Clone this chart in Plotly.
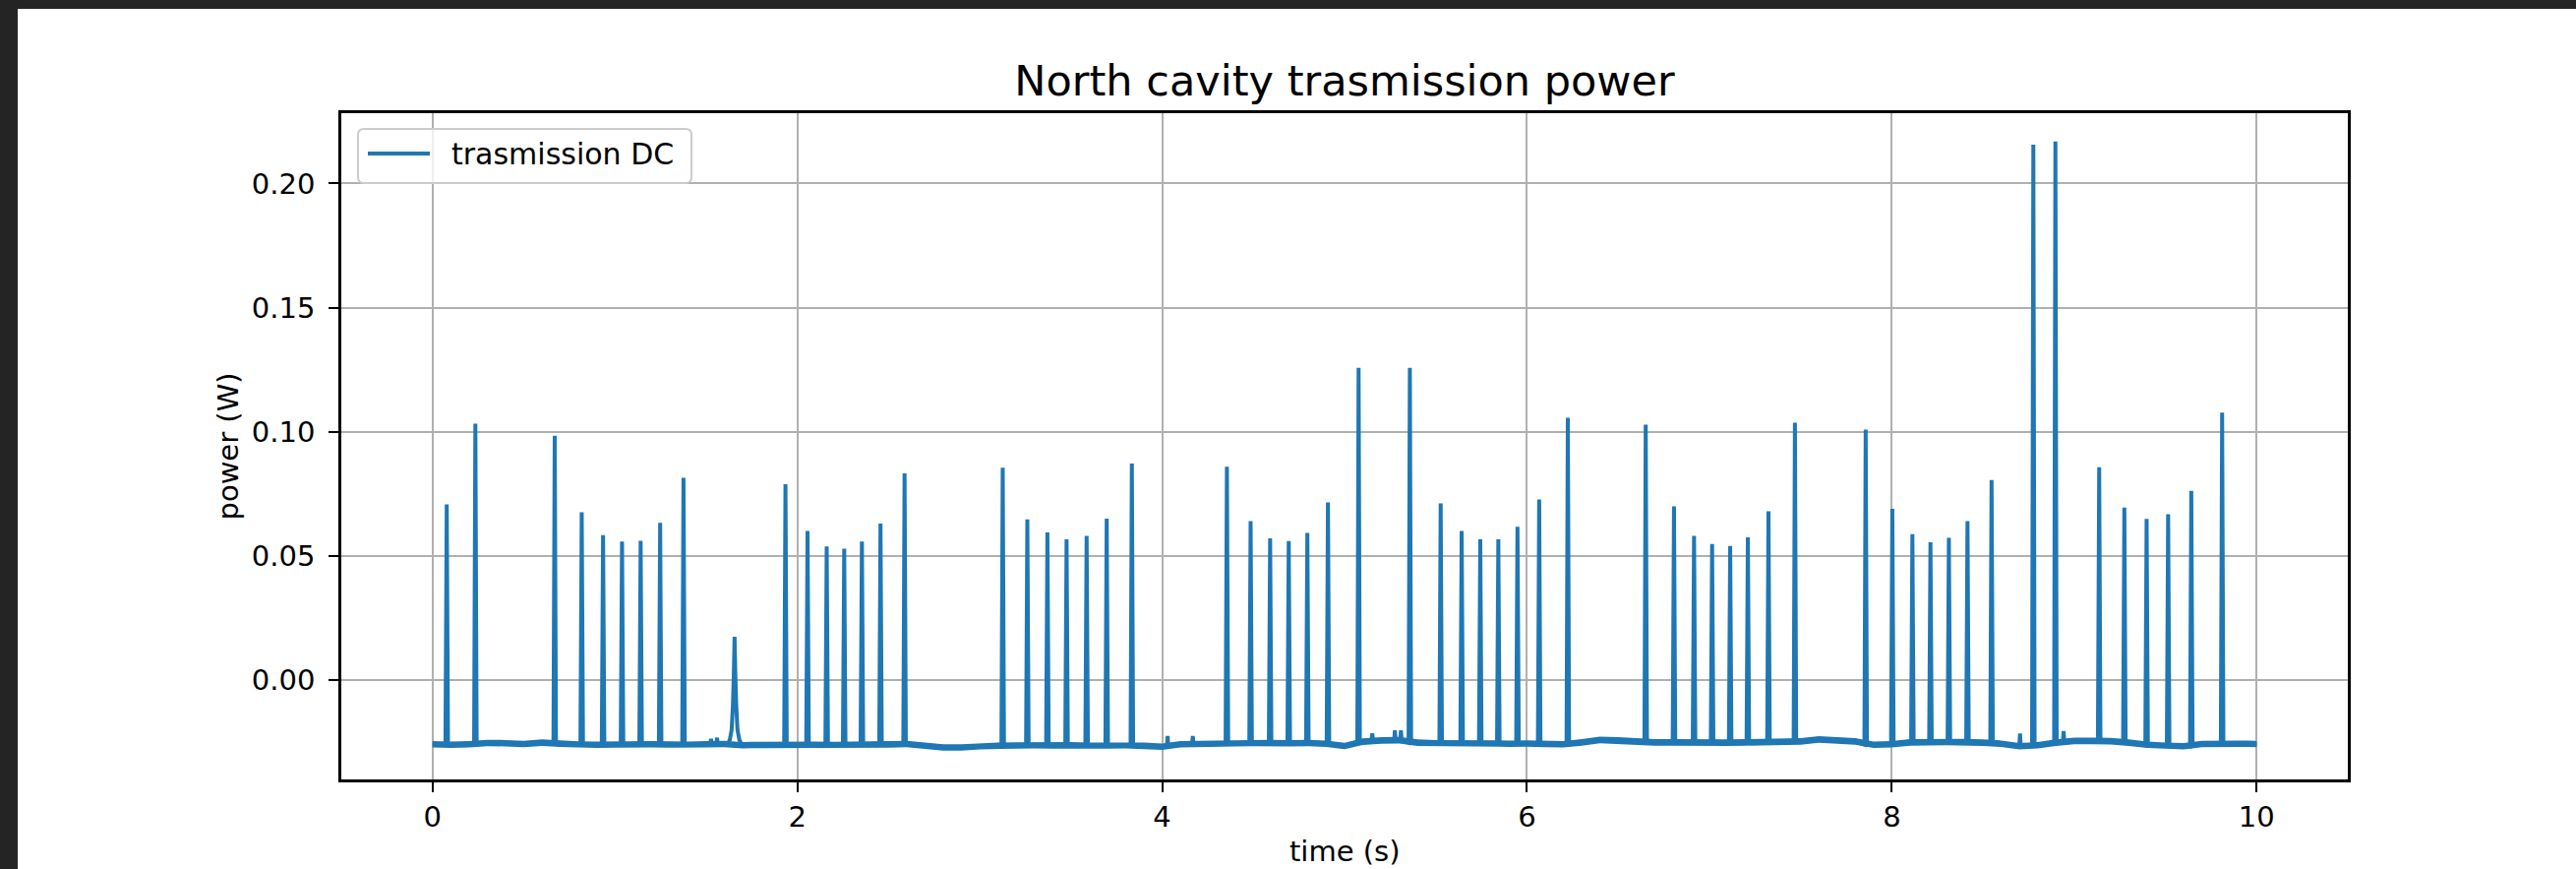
import plotly.graph_objects as go

# ---------------- data ----------------
# resonance peaks (time in s, peak power in W)
peak_times = [0.078, 0.235, 0.670, 0.818, 0.935, 1.039, 1.141, 1.248, 1.376,
              1.935, 2.056, 2.161, 2.257, 2.354, 2.456, 2.588,
              3.126, 3.261, 3.371, 3.476, 3.586, 3.696, 3.834,
              4.355, 4.485, 4.592, 4.694, 4.796, 4.909,
              5.077, 5.358,
              5.527, 5.642, 5.744, 5.843, 5.948, 6.067, 6.224,
              6.651, 6.806, 6.916, 7.015, 7.114, 7.211, 7.324, 7.469,
              7.857, 8.003, 8.113, 8.212, 8.313, 8.415, 8.547,
              8.776, 8.897,
              9.137, 9.275, 9.397, 9.515, 9.642, 9.811]
peak_heights = [0.0708, 0.1033, 0.0984, 0.0676, 0.0584, 0.0558, 0.0561, 0.0633, 0.0815,
                0.0789, 0.0601, 0.0538, 0.0529, 0.0558, 0.0630, 0.0832,
                0.0855, 0.0647, 0.0595, 0.0567, 0.0581, 0.0650, 0.0872,
                0.0859, 0.0640, 0.0571, 0.0560, 0.0593, 0.0716,
                0.1258, 0.1258,
                0.0712, 0.0601, 0.0567, 0.0567, 0.0617, 0.0727, 0.1056,
                0.1029, 0.0700, 0.0581, 0.0548, 0.0540, 0.0575, 0.0680, 0.1037,
                0.1009, 0.0690, 0.0588, 0.0555, 0.0573, 0.0640, 0.0806,
                0.2156, 0.2169,
                0.0857, 0.0695, 0.0649, 0.0668, 0.0762, 0.1077]

# broad, low resonance near 1.65 s
broad_times = [1.618, 1.630, 1.640, 1.647, 1.652, 1.656, 1.660, 1.665, 1.672, 1.682, 1.694]
broad_values = [-0.0258, -0.0240, -0.0200, -0.0100, 0.0030, 0.0174, 0.0030, -0.0100, -0.0200, -0.0240, -0.0258]

# small glitches on the baseline
glitch_times = [1.527, 1.560, 4.030, 4.168, 5.152, 5.276, 5.309, 8.703, 8.942]
glitch_values = [-0.0237, -0.0232, -0.0225, -0.0225, -0.0215, -0.0202, -0.0202, -0.0215, -0.0205]

# baseline level sampled every 0.1 s from 0 to 10 s
baseline_times = [round(0.1 * i, 1) for i in range(101)]
baseline_level = [
    -0.0258, -0.0260, -0.0258, -0.0253, -0.0254, -0.0257, -0.0252, -0.0256, -0.0259, -0.0260,
    -0.0259, -0.0260, -0.0258, -0.0259, -0.0260, -0.0258, -0.0257, -0.0262, -0.0261, -0.0260,
    -0.0261, -0.0260, -0.0261, -0.0260, -0.0259, -0.0259, -0.0257, -0.0264, -0.0271, -0.0271,
    -0.0266, -0.0264, -0.0263, -0.0262, -0.0263, -0.0262, -0.0264, -0.0263, -0.0262, -0.0264,
    -0.0268, -0.0258, -0.0257, -0.0256, -0.0254, -0.0253, -0.0253, -0.0254, -0.0253, -0.0256,
    -0.0265, -0.0248, -0.0243, -0.0242, -0.0252, -0.0254, -0.0255, -0.0256, -0.0255, -0.0256,
    -0.0255, -0.0257, -0.0258, -0.0251, -0.0241, -0.0243, -0.0247, -0.0251, -0.0251, -0.0252,
    -0.0251, -0.0252, -0.0251, -0.0250, -0.0249, -0.0247, -0.0239, -0.0243, -0.0247, -0.0260,
    -0.0258, -0.0251, -0.0250, -0.0249, -0.0250, -0.0252, -0.0256, -0.0266, -0.0262, -0.0252,
    -0.0245, -0.0245, -0.0246, -0.0252, -0.0260, -0.0264, -0.0266, -0.0257, -0.0256, -0.0256,
    -0.0257]

legend_label = "trasmission DC"
title_text = "North cavity trasmission power"
x_label = "time (s)"
y_label = "power (W)"
y_ticks = [0, 0.05, 0.10, 0.15, 0.20]

# ---------------- styles ----------------
LINE_COLOR = "#1f77b4"
NOISE_HALF = 0.0013      # half thickness of the noisy baseline band
PEAK_HALF = 0.007        # half base width of a narrow resonance
GLITCH_HALF = 0.004
FONT = "DejaVu Sans"

# ---------------- build the trace ----------------
def nearest_level(t):
    i = min(range(len(baseline_times)), key=lambda k: abs(baseline_times[k] - t))
    return baseline_level[i]

windows = [(t - PEAK_HALF, t + PEAK_HALF) for t in peak_times]
windows += [(t - GLITCH_HALF, t + GLITCH_HALF) for t in glitch_times]
windows.append((broad_times[0], broad_times[-1]))

pts = [(t, v) for t, v in zip(baseline_times, baseline_level)
       if not any(a <= t <= b for a, b in windows)]
for t, h in zip(peak_times, peak_heights):
    b = nearest_level(t)
    pts += [(t - PEAK_HALF, b), (t, h), (t + PEAK_HALF, b)]
for t, h in zip(glitch_times, glitch_values):
    b = nearest_level(t)
    pts += [(t - GLITCH_HALF, b), (t, h), (t + GLITCH_HALF, b)]
pts += list(zip(broad_times, broad_values))
pts.sort(key=lambda p: p[0])
xs = [p[0] for p in pts]
ys = [p[1] for p in pts]

fig = go.Figure()
# noise band of the baseline
fig.add_trace(go.Scatter(
    x=baseline_times + baseline_times[::-1],
    y=[v + NOISE_HALF for v in baseline_level] + [v - NOISE_HALF for v in baseline_level[::-1]],
    fill="toself", fillcolor=LINE_COLOR, line=dict(width=0),
    mode="lines", showlegend=False, hoverinfo="skip"))
fig.add_trace(go.Scatter(
    x=xs, y=ys, mode="lines", name=legend_label, showlegend=False,
    line=dict(color=LINE_COLOR, width=4, simplify=False)))

W, H = 2619, 883
ML, MR, MT, MB = 347, 232, 115, 91
pw, ph = W - ML - MR, H - MT - MB

def px(x):  # pixel -> paper x
    return (x - ML) / pw

def py(y):  # pixel -> paper y
    return (H - MB - y) / ph

axis_common = dict(
    showgrid=True, gridcolor="#b0b0b0", gridwidth=2,
    showline=True, linecolor="black", linewidth=2.5, mirror=True,
    ticks="outside", ticklen=10, tickwidth=2.3, tickcolor="black",
    tickfont=dict(family=FONT, size=29, color="black"),
    zeroline=False, automargin=False,
)

# legend box (matplotlib style, rounded corners)
lx0, lx1, ly0, ly1, r = 364, 703, 131, 186, 6
box_path = (
    f"M {px(lx0 + r)},{py(ly0)} L {px(lx1 - r)},{py(ly0)} "
    f"Q {px(lx1)},{py(ly0)} {px(lx1)},{py(ly0 + r)} "
    f"L {px(lx1)},{py(ly1 - r)} Q {px(lx1)},{py(ly1)} {px(lx1 - r)},{py(ly1)} "
    f"L {px(lx0 + r)},{py(ly1)} Q {px(lx0)},{py(ly1)} {px(lx0)},{py(ly1 - r)} "
    f"L {px(lx0)},{py(ly0 + r)} Q {px(lx0)},{py(ly0)} {px(lx0 + r)},{py(ly0)} Z"
)

label_font = dict(family=FONT, size=29, color="black")

fig.update_layout(
    width=W, height=H,
    margin=dict(l=ML, r=MR, t=MT, b=MB, autoexpand=False),
    paper_bgcolor="#242424", plot_bgcolor="white",
    font=dict(family=FONT, color="black"),
    title=dict(text=title_text,
               font=dict(family=FONT, size=43, color="black"),
               x=0.5, xref="paper", xanchor="center",
               y=1 - 82 / H, yref="container", yanchor="middle"),
    xaxis=dict(range=[-0.5, 10.5], tick0=0, dtick=2, **axis_common),
    yaxis=dict(range=[-0.0400, 0.2283], tickvals=y_ticks, tickformat=".2f",
               ticklabelstandoff=8, **axis_common),
    shapes=[
        dict(type="rect", xref="paper", yref="paper", layer="below",
             x0=px(18), x1=1.2, y0=-0.3, y1=py(9),
             fillcolor="white", line=dict(width=0)),
        dict(type="path", xref="paper", yref="paper", layer="above", path=box_path,
             fillcolor="rgba(255,255,255,0.8)", line=dict(color="#cccccc", width=2)),
        dict(type="line", xref="paper", yref="paper", layer="above",
             x0=px(374), x1=px(437), y0=py(156), y1=py(156),
             line=dict(color=LINE_COLOR, width=4)),
    ],
    annotations=[
        dict(text=legend_label, xref="paper", yref="paper",
             x=px(457), y=py(156), xanchor="left", yanchor="middle",
             showarrow=False, font=dict(family=FONT, size=30, color="black")),
        dict(text=x_label, xref="paper", yref="paper",
             x=0.5, y=py(865), xanchor="center", yanchor="middle",
             showarrow=False, font=label_font),
        dict(text=y_label, xref="paper", yref="paper", textangle=-90,
             x=px(231), y=0.5, xanchor="center", yanchor="middle",
             showarrow=False, font=label_font),
    ],
    showlegend=False,
)

fig.write_html("out.html")
